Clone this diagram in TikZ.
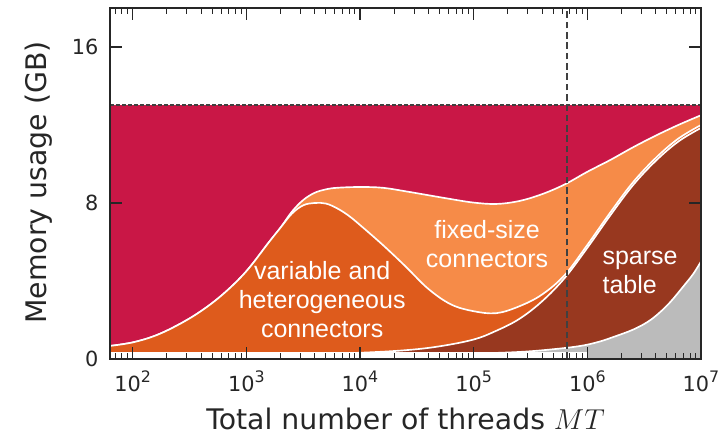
\documentclass[tikz,border=0pt]{standalone}
\usepackage{fontspec}
\setmainfont{DejaVu Sans}
\newfontfamily\lblfont{Liberation Sans}
\definecolor{memred}{RGB}{201,23,70}
\definecolor{fixedorange}{RGB}{246,139,72}
\definecolor{varorange}{RGB}{222,91,28}
\definecolor{sparsebrown}{RGB}{152,56,31}
\definecolor{othergray}{RGB}{187,187,187}
\definecolor{axisgray}{RGB}{38,38,38}
\definecolor{dashgray}{RGB}{64,64,64}
\tikzset{
  areaedge/.style = {draw=white, line width=1pt},
  axisframe/.style = {draw=axisgray, line width=1.6pt},
  majtick/.style  = {draw=axisgray, line width=0.9pt},
  mintick/.style  = {draw=axisgray, line width=0.6pt},
  ticklbl/.style  = {font=\fontsize{12.5}{15}\selectfont, text=axisgray, inner sep=0pt},
  axlbl/.style    = {font=\fontsize{17}{20}\selectfont, text=axisgray, inner sep=0pt},
  arealbl/.style  = {font=\lblfont\fontsize{15}{17.4}\selectfont, text=white, inner sep=0pt},
  limitline/.style = {draw=dashgray, line width=1.2pt, dash pattern=on 2.4pt off 1.2pt},
  mtline/.style   = {draw=dashgray, line width=1.3pt, dash pattern=on 4pt off 2.2pt},
  curve/.style    = {smooth, tension=0.6},
}
\newcommand\sciten[1]{10\raisebox{0.45em}{\fontsize{9.5}{10}\selectfont#1}}

\begin{document}
\begin{tikzpicture}[x=2.3969cm, y=0.41121cm]
\useasboundingbox (0.8325,-4.051) rectangle (7.2199,18.41);

%% ── Plot corners ─────────────────────────────────────────────────────────────
\coordinate (O)  at (1.8, 0);
\coordinate (TR) at (7, 18);

%% ── Total memory (up to the 13 GB limit) ────────────────────────────────────
\fill[memred] (O) rectangle (7, 13);

%% ── Fixed-size connectors ───────────────────────────────────────────────────
\filldraw[fill=fixedorange, areaedge] plot[curve] coordinates {
    (1.8,0.67) (2.0,0.85) (2.2,1.2) (2.4,1.75) (2.6,2.45) (2.8,3.35)
    (3.0,4.5) (3.2,6.0) (3.3,6.73) (3.4,7.55) (3.5,8.15) (3.6,8.52)
    (3.7,8.7) (3.8,8.78) (4.0,8.82) (4.2,8.78) (4.4,8.6) (4.6,8.4)
    (4.8,8.2) (5.0,8.02) (5.2,7.95) (5.4,8.1) (5.6,8.45) (5.8,8.95)
    (6.0,9.6) (6.2,10.2) (6.4,10.85) (6.6,11.45) (6.8,12.0) (7.0,12.5)}
    -- (7,0) -- (O) -- cycle;

%% ── Variable and heterogeneous connectors ───────────────────────────────────
\filldraw[fill=varorange, areaedge] plot[curve] coordinates {
    (1.8,0.67) (2.0,0.85) (2.2,1.2) (2.4,1.75) (2.6,2.45) (2.8,3.35)
    (3.0,4.5) (3.2,6.0) (3.3,6.73) (3.4,7.45) (3.5,7.88) (3.6,8.0)
    (3.7,7.97) (3.8,7.72) (3.9,7.35) (4.0,6.87) (4.2,5.85) (4.4,4.75)
    (4.6,3.6) (4.8,2.8) (5.0,2.45) (5.2,2.35) (5.4,2.7) (5.6,3.3)
    (5.8,4.3) (6.0,5.85) (6.2,7.5) (6.4,9.05) (6.6,10.3) (6.8,11.3)
    (7.0,12.0)}
    -- (7,0) -- (O) -- cycle;

%% ── Sparse table ────────────────────────────────────────────────────────────
\filldraw[fill=sparsebrown, areaedge] plot[curve] coordinates {
    (3.2,0.25) (3.6,0.27) (4.0,0.32) (4.4,0.45) (4.7,0.65) (5.0,1.0)
    (5.2,1.45) (5.4,2.05) (5.6,2.95) (5.8,4.15) (6.0,5.7) (6.2,7.35)
    (6.4,8.9) (6.6,10.15) (6.8,11.15) (7.0,11.85)}
    -- (7,0) -- (3.2,0) -- cycle;

%% ── Remaining memory ────────────────────────────────────────────────────────
\filldraw[fill=othergray, areaedge] plot[curve] coordinates {
    (4.6,0.25) (5.0,0.28) (5.4,0.36) (5.7,0.5) (5.94,0.67) (6.1,0.88)
    (6.23,1.13) (6.4,1.5) (6.53,1.9) (6.63,2.35) (6.73,2.92) (6.84,3.69)
    (6.93,4.35) (7.0,5.0)}
    -- (7,0) -- (4.6,0) -- cycle;

% white strip along the bottom
\draw[white, line width=3.5pt] (1.8,0.2) -- (6,0.2);

%% ── Limits (13 GB and MT at the dashed line) ────────────────────────────────
\draw[limitline] (1.8,13) -- (7,13);
\draw[mtline] (5.821,0) -- (5.821,18);

%% ── Ticks and tick labels ───────────────────────────────────────────────────
\foreach \e in {2,...,7} {
  \draw[majtick] (\e,0) -- ++(0,7.2pt);
  \draw[majtick] (\e,18) -- ++(0,-7.2pt);
  \node[ticklbl, anchor=base] (xl\e) at (\e,-1.69) {\sciten{\e}};
}
\foreach \e in {1,...,6}
  \foreach \m in {2,...,9} {
    \pgfmathsetmacro\lx{\e+log10(\m)}
    \ifdim\lx pt>1.81pt
      \draw[mintick] (\lx,0) -- ++(0,3.6pt);
      \draw[mintick] (\lx,18) -- ++(0,-3.6pt);
    \fi
  }
\foreach \v in {0,8,16} {
  \draw[majtick] (1.8,\v) -- ++(7.2pt,0);
  \draw[majtick] (7,\v) -- ++(-7.2pt,0);
  \node[ticklbl, anchor=east] (yl\v) at (1.70,\v) {\v};
}

%% ── Frame ───────────────────────────────────────────────────────────────────
\draw[axisframe] (O) rectangle (TR);

%% ── Axis labels ─────────────────────────────────────────────────────────────
\node[axlbl, rotate=90] (ylab) at (1.171,9.05) {Memory usage (GB)};
\node[axlbl, anchor=base] (xlab) at (4.40,-3.64) {Total number of threads $MT$};

%% ── Area labels ─────────────────────────────────────────────────────────────
\node[arealbl, align=center] (varlbl) at (3.667,3.03)
    {variable and\\heterogeneous\\connectors};
\node[arealbl, align=center] (fixlbl) at (5.118,5.90) {fixed-size\\connectors};
\node[arealbl, align=left, anchor=west] (sparselbl) at (6.131,4.46) {sparse\\table};

\end{tikzpicture}
\end{document}
